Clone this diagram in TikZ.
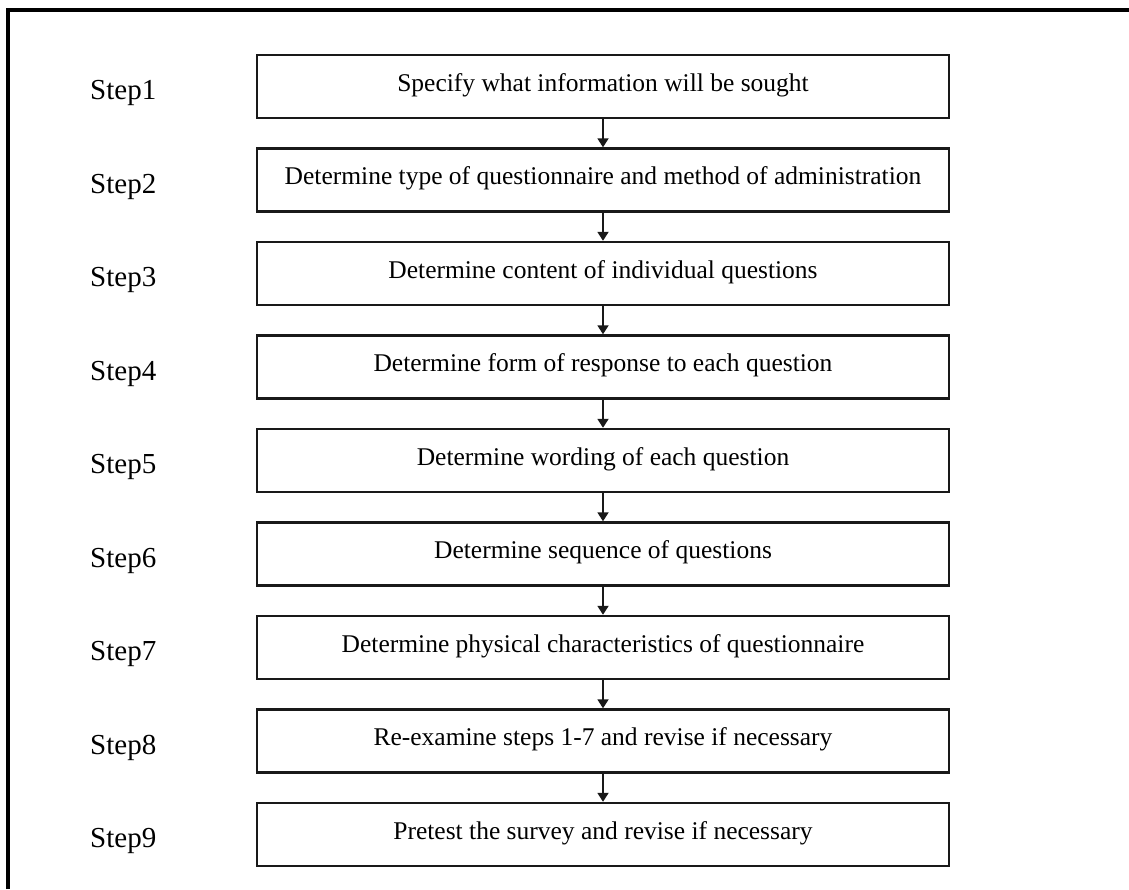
\documentclass[tikz,border=0pt]{standalone}
\usepackage{fontspec}
\setmainfont{Liberation Serif}
\usetikzlibrary{arrows.meta}

\tikzset{
  stepbox/.style={draw=black!90, line width=2.4pt, minimum width=692pt, minimum height=63pt,
    inner sep=0pt, text height=18pt, text depth=9pt,
    font=\fontsize{25.5}{30}\selectfont},
  steplabel/.style={anchor=base west, inner sep=0pt, font=\fontsize{29}{34}\selectfont},
  flow/.style={draw=black!90, line width=1.8pt, -{Triangle[width=11pt,length=9pt]}},
  frame/.style={line width=4pt, line join=miter}
}

\begin{document}
\begin{tikzpicture}[x=1pt, y=-1pt]
  \useasboundingbox (0,0) rectangle (1129,889);

  % outer frame: top and left edges only
  \draw[frame] (8,889) -- (8,10) -- (1129,10);

  % step boxes with their labels
  \foreach \i/\txt in {
      1/Specify what information will be sought,
      2/Determine type of questionnaire and method of administration,
      3/Determine content of individual questions,
      4/Determine form of response to each question,
      5/Determine wording of each question,
      6/Determine sequence of questions,
      7/Determine physical characteristics of questionnaire,
      8/Re-examine steps 1-7 and revise if necessary,
      9/Pretest the survey and revise if necessary} {
    \pgfmathsetmacro{\top}{55 + (\i-1)*93.5}
    \node[stepbox] (box\i) at (603, \top+31.5) {\txt};
    \node[steplabel] (lab\i) at (90, \top+44.5) {Step\i};
  }

  % connectors
  \foreach \i [evaluate=\i as \j using int(\i+1)] in {1,...,8} {
    \draw[flow] (box\i.south) -- (box\j.north);
  }
\end{tikzpicture}
\end{document}
